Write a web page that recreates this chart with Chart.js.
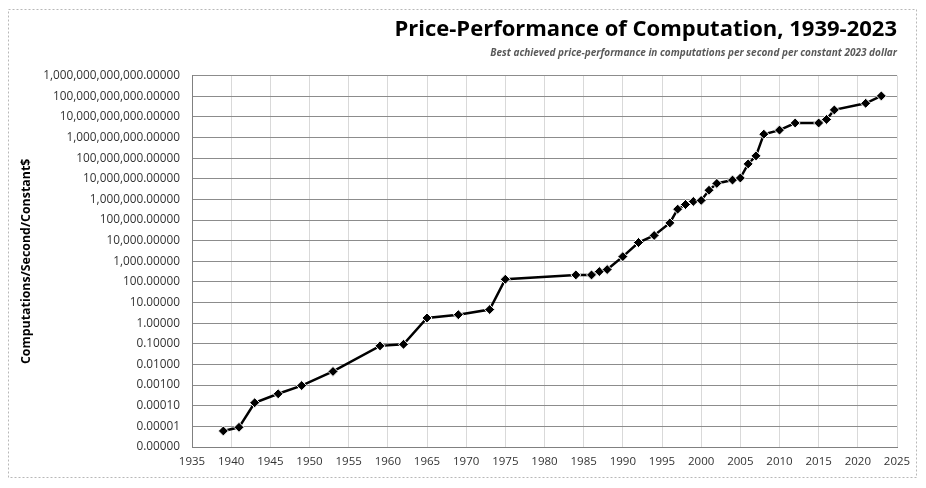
<!DOCTYPE html>
<html>
<head>
<meta charset="utf-8">
<title>Price-Performance of Computation, 1939-2023</title>
<script src="https://cdn.jsdelivr.net/npm/chart.js@4.4.0/dist/chart.umd.min.js"></script>
<style>
  html, body { margin: 0; padding: 0; background: #fff; }
  #wrap { width: 926px; height: 488px; }
</style>
</head>
<body>
<div id="wrap"><canvas id="chart" width="926" height="488"></canvas></div>
<script>
// ---------- data ----------
const years = [1939, 1941, 1943, 1946, 1949, 1953, 1959, 1962, 1965, 1969, 1973, 1975,
  1984, 1986, 1987, 1988, 1990, 1992, 1994, 1996, 1997, 1998, 1999, 2000, 2001, 2002,
  2004, 2005, 2006, 2007, 2008, 2010, 2012, 2015, 2016, 2017, 2021, 2023];
const perfPerDollar = [6e-6, 9e-6, 1.4e-4, 3.8e-4, 9.5e-4, 4.6e-3, 0.08, 0.095, 1.8, 2.6, 4.6, 135,
  220, 220, 320, 400, 1700, 8200, 1.8e4, 7.3e4, 3.4e5, 5.7e5, 8e5, 9e5, 2.8e6, 6e6,
  8.7e6, 1.1e7, 5.3e7, 1.3e8, 1.46e9, 2.3e9, 5.1e9, 5.1e9, 7.6e9, 2.2e10, 4.6e10, 1.05e11];
const yTickValues = [1e-6, 1e-5, 1e-4, 1e-3, 1e-2, 1e-1, 1, 10, 100, 1e3, 1e4, 1e5,
  1e6, 1e7, 1e8, 1e9, 1e10, 1e11, 1e12];
const xRange = [1935, 2025];
const xStep = 5;

const titleText = "Price-Performance of Computation, 1939-2023";
const subtitleText = "Best achieved price-performance in computations per second per constant 2023 dollar";
const yTitle = "Computations/Second/Constant$";

// ---------- helpers ----------
const FONT = "'Open Sans', 'DejaVu Sans', sans-serif";
const fmtY = v => Number(v).toLocaleString("en-US", { minimumFractionDigits: 5, maximumFractionDigits: 5 });

// dotted frame round the whole chart, like the spreadsheet chart box
const frame = {
  id: "frame",
  beforeDraw(chart) {
    const c = chart.ctx;
    c.save();
    c.fillStyle = "#fff";
    c.fillRect(0, 0, chart.width, chart.height);
    c.setLineDash([2, 2]);
    c.strokeStyle = "#b8b8b8";
    c.lineWidth = 1;
    c.strokeRect(8.5, 9.5, 908, 468);
    c.restore();
  }
};

new Chart(document.getElementById("chart").getContext("2d"), {
  type: "line",
  data: {
    datasets: [{
      data: years.map((yr, i) => ({ x: yr, y: perfPerDollar[i] })),
      borderColor: "#000",
      borderWidth: 2.5,
      tension: 0,
      pointStyle: "rectRot",
      pointRadius: 5,
      pointBackgroundColor: "#000",
      pointBorderColor: "#fff",
      pointBorderWidth: 1
    }]
  },
  options: {
    responsive: false,
    animation: false,
    layout: { padding: { left: 12, right: 29, top: 10, bottom: 12 } },
    plugins: {
      legend: { display: false },
      tooltip: { enabled: false },
      title: {
        display: true, text: titleText, align: "end", color: "#000",
        font: { family: FONT, size: 22, weight: "bold" },
        padding: { top: 7, bottom: 2 }
      },
      subtitle: {
        display: true, text: subtitleText, align: "end", color: "#595959",
        font: { family: FONT, size: 10, weight: "bold", style: "italic" },
        padding: { top: 2, bottom: 16.3 }
      }
    },
    scales: {
      x: {
        type: "linear", min: xRange[0], max: xRange[1],
        ticks: { stepSize: xStep, callback: v => String(v), color: "#333", padding: 8,
          font: { family: FONT, size: 11.5 } },
        grid: { color: "#d9d9d9", drawTicks: false },
        border: { color: "#808080" },
        afterFit: s => { s.height = 29; }
      },
      y: {
        type: "logarithmic", min: yTickValues[0], max: yTickValues[yTickValues.length - 1],
        afterBuildTicks: s => { s.ticks = yTickValues.map(v => ({ value: v })); },
        ticks: { callback: v => fmtY(v), color: "#333", padding: 12,
          font: { family: FONT, size: 11.8 } },
        grid: { color: "#8c8c8c", drawTicks: false },
        border: { color: "#808080" },
        title: { display: true, text: yTitle, color: "#000",
          font: { family: FONT, size: 12.4, weight: "bold" }, padding: { top: 7, bottom: 0 } },
        afterFit: s => { s.width = 180; }
      }
    }
  },
  plugins: [frame]
});
</script>
</body>
</html>
